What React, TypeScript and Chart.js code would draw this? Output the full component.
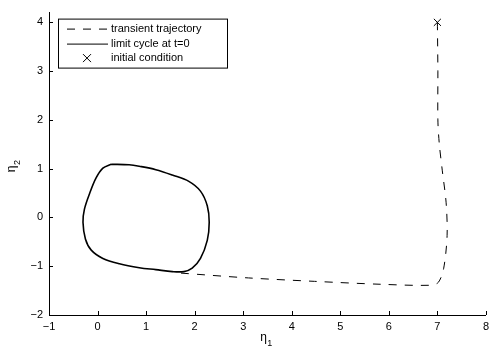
import { useEffect, useRef } from "react";
import { Chart, registerables } from "chart.js";

Chart.register(...registerables);

// Limit cycle at t=0 (closed curve)
const CYCLE_X = [0.28, 0.65, 0.86, 1.2, 1.54, 1.88, 2.12, 2.26, 2.3, 2.26, 2.12, 1.95, 1.78, 1.54, 1.2, 0.86, 0.45, 0.11, -0.13, -0.25, -0.3, -0.27, -0.16, -0.03, 0.11, 0.28];
const CYCLE_Y = [1.09, 1.08, 1.05, 0.98, 0.87, 0.74, 0.54, 0.24, -0.1, -0.47, -0.84, -1.04, -1.11, -1.11, -1.07, -1.03, -0.95, -0.84, -0.67, -0.44, -0.1, 0.17, 0.5, 0.81, 1.01, 1.09];

// Transient trajectory from the initial condition to the limit cycle
const TRANS_X = [7.0, 7.01, 7.01, 7.04, 7.1, 7.18, 7.2, 7.13, 7.02, 6.85, 5.83, 4.47, 3.11, 1.7];
const TRANS_Y = [4.0, 3.0, 2.0, 1.5, 0.97, 0.3, -0.37, -1.04, -1.33, -1.39, -1.37, -1.31, -1.24, -1.14];

// Initial condition
const INIT_X = [7];
const INIT_Y = [4];

const X_TICKS = [-1, 0, 1, 2, 3, 4, 5, 6, 7, 8];
const Y_TICKS = [-2, -1, 0, 1, 2, 3, 4];
const LEGEND_LABELS = ["transient trajectory", "limit cycle at t=0", "initial condition"];
const X_TITLE = ["η", "1"];
const Y_TITLE = ["η", "2"];

const FONT = "'Liberation Sans', Arial, Helvetica, sans-serif";
const DASH = [8, 8];

const fmt = (v: number) => (v < 0 ? "\u2212" + Math.abs(v) : String(v));

const inwardTicks = {
  id: "inwardTicks",
  afterDraw(chart: any) {
    const { ctx, chartArea } = chart;
    const xs = chart.scales.x;
    const ys = chart.scales.y;
    ctx.save();
    ctx.strokeStyle = "#000";
    ctx.lineWidth = 1;
    ctx.beginPath();
    X_TICKS.forEach((v) => {
      const px = Math.round(xs.getPixelForValue(v)) + 0.5;
      ctx.moveTo(px, chartArea.bottom);
      ctx.lineTo(px, chartArea.bottom - 4);
    });
    Y_TICKS.forEach((v) => {
      const py = Math.round(ys.getPixelForValue(v)) + 0.5;
      ctx.moveTo(chartArea.left, py);
      ctx.lineTo(chartArea.left + 4, py);
    });
    ctx.stroke();
    ctx.restore();
  },
};

const axisTitles = {
  id: "axisTitles",
  afterDraw(chart: any) {
    const { ctx, chartArea } = chart;
    ctx.save();
    ctx.fillStyle = "#000";
    ctx.textBaseline = "alphabetic";
    ctx.textAlign = "left";
    // x title
    const cxm = (chartArea.left + chartArea.right) / 2 - 4;
    ctx.font = `12px ${FONT}`;
    const w1 = ctx.measureText(X_TITLE[0]).width;
    ctx.fillText(X_TITLE[0], cxm - w1 / 2, 341);
    ctx.font = `9px ${FONT}`;
    ctx.fillText(X_TITLE[1], cxm + w1 / 2 + 0.5, 346);
    // y title (rotated)
    ctx.translate(15, (chartArea.top + chartArea.bottom) / 2 + 5);
    ctx.rotate(-Math.PI / 2);
    ctx.font = `12px ${FONT}`;
    const w2 = ctx.measureText(Y_TITLE[0]).width;
    ctx.fillText(Y_TITLE[0], -w2 / 2, 0);
    ctx.font = `9px ${FONT}`;
    ctx.fillText(Y_TITLE[1], w2 / 2 + 0.5, 5);
    ctx.restore();
  },
};

const legendBox = {
  id: "legendBox",
  afterDraw(chart: any) {
    const { ctx, chartArea } = chart;
    const x0 = chartArea.left + 9;
    const y0 = chartArea.top + 6;
    const w = 169;
    const h = 49;
    ctx.save();
    ctx.fillStyle = "#fff";
    ctx.fillRect(x0, y0, w, h);
    ctx.strokeStyle = "#000";
    ctx.lineWidth = 1;
    ctx.strokeRect(x0 + 0.5, y0 + 0.5, w, h);
    const rows = [y0 + 10.5, y0 + 25.5, y0 + 39.5];
    ctx.setLineDash(DASH);
    ctx.beginPath();
    ctx.moveTo(x0 + 9, rows[0]);
    ctx.lineTo(x0 + 50, rows[0]);
    ctx.stroke();
    ctx.setLineDash([]);
    ctx.beginPath();
    ctx.moveTo(x0 + 9, rows[1]);
    ctx.lineTo(x0 + 50, rows[1]);
    ctx.stroke();
    const cx = x0 + 29;
    const cy = rows[2];
    ctx.beginPath();
    ctx.moveTo(cx - 4, cy - 4);
    ctx.lineTo(cx + 4, cy + 4);
    ctx.moveTo(cx - 4, cy + 4);
    ctx.lineTo(cx + 4, cy - 4);
    ctx.stroke();
    ctx.fillStyle = "#000";
    ctx.font = `11px ${FONT}`;
    ctx.textBaseline = "middle";
    ctx.textAlign = "left";
    LEGEND_LABELS.forEach((t, i) => ctx.fillText(t, x0 + 53, rows[i]));
    ctx.restore();
  },
};

export default function App() {
  const ref = useRef<HTMLCanvasElement>(null);
  useEffect(() => {
    document.body.style.margin = "0";
    const canvas = ref.current!;
    const chart = new Chart(canvas, {
      type: "scatter",
      data: {
        datasets: [
          {
            label: LEGEND_LABELS[0],
            data: TRANS_X.map((x, i) => ({ x, y: TRANS_Y[i] })),
            showLine: true,
            borderColor: "#000",
            borderWidth: 1,
            borderDash: DASH,
            pointRadius: 0,
            tension: 0.3,
            fill: false,
          },
          {
            label: LEGEND_LABELS[1],
            data: CYCLE_X.map((x, i) => ({ x, y: CYCLE_Y[i] })),
            showLine: true,
            borderColor: "#000",
            borderWidth: 1.6,
            pointRadius: 0,
            tension: 0.35,
            fill: false,
          },
          {
            label: LEGEND_LABELS[2],
            data: INIT_X.map((x, i) => ({ x, y: INIT_Y[i] })),
            showLine: false,
            pointStyle: "crossRot",
            pointRadius: 5,
            borderColor: "#000",
            borderWidth: 1,
          },
        ],
      } as any,
      options: {
        responsive: false,
        animation: false,
        devicePixelRatio: 1,
        layout: { padding: { top: 7, right: 5, left: 0, bottom: 0 } },
        plugins: { legend: { display: false }, tooltip: { enabled: false } },
        scales: {
          x: {
            type: "linear",
            min: -1,
            max: 8,
            afterBuildTicks: (s: any) => {
              s.ticks = X_TICKS.map((v) => ({ value: v }));
            },
            afterFit: (s: any) => {
              s.height = 35;
            },
            grid: { display: false, drawTicks: false },
            border: { display: true, color: "#000", width: 1 },
            ticks: {
              color: "#000",
              padding: 5,
              maxRotation: 0,
              font: { family: FONT, size: 11 },
              callback: (v: any) => fmt(Number(v)),
            },
          },
          y: {
            type: "linear",
            min: -2,
            max: 4.2,
            afterBuildTicks: (s: any) => {
              s.ticks = Y_TICKS.map((v) => ({ value: v }));
            },
            afterFit: (s: any) => {
              s.width = 49;
            },
            grid: { display: false, drawTicks: false },
            border: { display: true, color: "#000", width: 1 },
            ticks: {
              color: "#000",
              padding: 6,
              font: { family: FONT, size: 11 },
              callback: (v: any) => fmt(Number(v)),
            },
          },
        },
      } as any,
      plugins: [inwardTicks, axisTitles, legendBox],
    });
    return () => chart.destroy();
  }, []);
  return <canvas ref={ref} width={494} height={350} style={{ display: "block" }} />;
}
